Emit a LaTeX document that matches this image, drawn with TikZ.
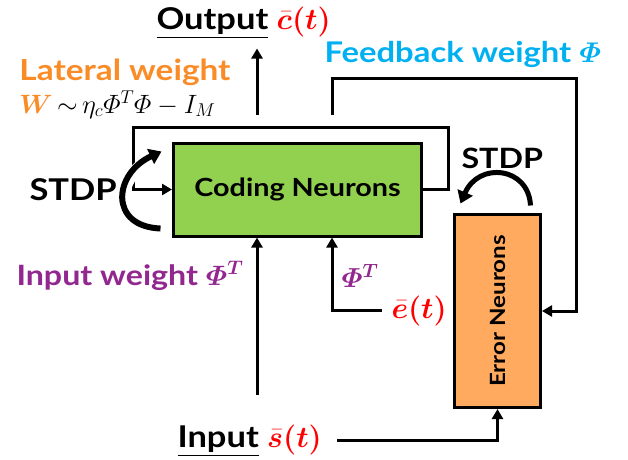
\RequirePackage{fix-cm}
\documentclass[tikz,border=0pt]{standalone}
\usepackage{amsmath}
\usepackage{fontspec}
\setmainfont{Lato}[FakeStretch=1.15]
\usepackage{bm}
\usetikzlibrary{arrows.meta,calc}
\definecolor{codegreen}{RGB}{146,208,80}
\definecolor{errorange}{RGB}{255,170,95}
\definecolor{latorange}{RGB}{250,140,40}
\definecolor{fbblue}{RGB}{0,176,240}
\definecolor{inpurple}{RGB}{146,39,143}
\begin{document}
\begin{tikzpicture}[x=1pt, y=-1pt, line width=3pt,
    arr/.style={-{Triangle[length=10pt,width=11pt]}},
    box/.style={draw, line width=3pt, inner sep=0pt},
    stdparc/.style={line width=6pt, -{Triangle[length=12pt,width=16pt]}},
    lbl/.style={anchor=base west, inner sep=0pt, font=\bfseries\fontsize{30}{36}\selectfont}]
    \useasboundingbox (0,0) rectangle (628,459);

    % Boxes
    \node[box, fill=codegreen, minimum width=248pt, minimum height=93pt,
          font=\bfseries\fontsize{25}{30}\selectfont] (coding) at (297.5,189.5) {Coding Neurons};
    \node[box, fill=errorange, minimum width=86pt, minimum height=193pt,
          font=\bfseries\fontsize{21}{25}\selectfont] (error) at (497.5,311) {\rotatebox{90}{Error Neurons}};

    % Labels
    \node[lbl] (output) at (155,29) {\underline{Output} \textcolor{red}{$\bm{\bar{c}(t)}$}};
    \node[lbl, text=latorange, font=\bfseries\fontsize{29}{34}\selectfont] (latw) at (18,80) {Lateral weight};
    \node[anchor=base west, inner sep=0pt, font=\fontsize{26.5}{30}\selectfont] (lateq) at (18,113)
        {$\textcolor{latorange}{\bm{W}}\,{\sim}\,\eta_c\varPhi^T\varPhi-I_M$};
    \node[lbl, text=fbblue, font=\bfseries\fontsize{28.5}{33}\selectfont] (fbw) at (323,62) {Feedback weight $\bm{\varPhi}$};
    \node[lbl] (stdpl) at (28,200) {STDP};
    \node[lbl, font=\bfseries\fontsize{28}{32}\selectfont] (stdpr) at (460,168) {STDP};
    \node[lbl, text=inpurple, font=\bfseries\fontsize{28}{32}\selectfont] (inw) at (15,285) {Input weight $\bm{\varPhi^T}$};
    \node[lbl, text=inpurple, font=\bfseries\fontsize{27.5}{32}\selectfont] (ephi) at (340,287) {$\bm{\varPhi^T}$};
    \node[lbl, text=red] (ebar) at (390,318) {$\bm{\bar{e}(t)}$};
    \node[lbl] (input) at (176,447) {\underline{Input} \textcolor{red}{$\bm{\bar{s}(t)}$}};

    % Free ends
    \coordinate (outfoot) at (257,115);
    \coordinate (fbfoot) at (332,115);
    \coordinate (fbturn) at (576,78);
    \coordinate (infoot) at (257,395);
    \coordinate (latturn) at (448,127);
    \coordinate (latleft) at (133,127);

    % Connectors
    \draw[arr, shorten >=8pt] (outfoot) -- (outfoot |- output.south);
    \draw[arr] (fbfoot) |- (fbturn) |- (error.east);
    \draw[arr] (coding.east) -| (latturn) -- (latleft) |- (coding.west);
    \draw[arr] (infoot) -- (infoot |- coding.south);
    \draw[arr, shorten <=14pt] (input.east) -| (error.south);
    \draw[arr, shorten <=8pt] (ebar.west) -| (coding.south -| fbfoot);

    % STDP loops
    \draw[stdparc, preaction={draw=white, line width=12pt, arrows=-}]
        ($(coding.south west)+(-11.5,-9)$) .. controls +(-52,-2) and +(-48,22) .. ($(coding.north west)+(-10.5,10)$);
    \draw[stdparc, line width=5pt]
        ($(error.north east)+(-11.5,-7.5)$) .. controls +(-2,-39) and +(18,-42) .. ($(error.north west)+(7.5,-9.5)$);
\end{tikzpicture}
\end{document}
